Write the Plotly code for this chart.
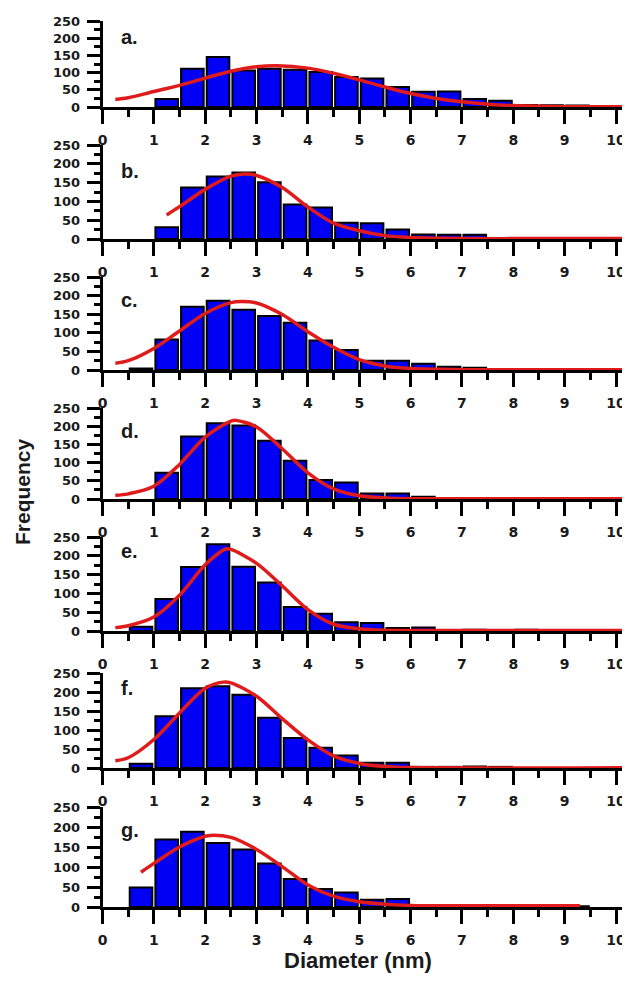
import plotly.graph_objects as go

# ---------------- data ----------------
bin_centers = [0.25, 0.75, 1.25, 1.75, 2.25, 2.75, 3.25, 3.75, 4.25, 4.75,
               5.25, 5.75, 6.25, 6.75, 7.25, 7.75, 8.25, 8.75, 9.25, 9.75]
x_ticks = [0, 1, 2, 3, 4, 5, 6, 7, 8, 9, 10]
y_ticks = [0, 50, 100, 150, 200, 250]
panel_labels = ["a.", "b.", "c.", "d.", "e.", "f.", "g."]

freq_a = [0, 0, 23, 111, 145, 106, 111, 108, 102, 87, 83, 58, 44, 45, 23, 18, 6, 5, 4, 2]
freq_b = [0, 0, 31, 137, 166, 177, 151, 92, 84, 43, 42, 25, 12, 11, 11, 0, 0, 0, 0, 0]
freq_c = [0, 4, 82, 170, 186, 162, 145, 127, 79, 54, 25, 25, 17, 9, 6, 0, 0, 0, 0, 0]
freq_d = [0, 0, 72, 172, 208, 202, 160, 105, 52, 45, 15, 15, 6, 0, 0, 0, 0, 0, 0, 0]
freq_e = [0, 11, 85, 170, 231, 171, 129, 64, 46, 23, 21, 8, 9, 0, 3, 0, 3, 0, 0, 0]
freq_f = [0, 11, 136, 210, 215, 193, 132, 79, 53, 33, 14, 14, 3, 3, 4, 3, 0, 0, 0, 0]
freq_g = [0, 49, 169, 188, 160, 144, 109, 70, 45, 36, 18, 20, 3, 0, 0, 0, 0, 0, 2, 0]

fit_x_a = [0.25, 0.5, 1.0, 1.5, 2.0, 2.5, 3.0, 3.4, 4.0, 4.5, 5.0, 5.5, 6.0, 6.5, 7.0, 7.5, 8.0, 8.5, 9.0, 10.3]
fit_y_a = [22, 27, 45, 63, 84, 104, 117, 120, 113, 98, 79, 58, 39, 25, 15, 8, 4, 2, 1, 1]
fit_x_b = [1.25, 1.5, 2.0, 2.5, 2.75, 3.0, 3.5, 4.0, 4.5, 5.0, 5.5, 6.0, 6.5, 7.0, 8.0, 10.3]
fit_y_b = [64, 86, 132, 167, 173, 169, 137, 85, 42, 22, 9, 4, 2, 1, 1, 1]
fit_x_c = [0.25, 0.5, 1.0, 1.5, 2.0, 2.5, 2.7, 3.0, 3.5, 4.0, 4.5, 5.0, 5.5, 6.0, 6.5, 7.0, 10.3]
fit_y_c = [18, 25, 58, 105, 152, 181, 184, 180, 149, 103, 61, 28, 11, 4, 2, 1, 1]
fit_x_d = [0.25, 0.5, 1.0, 1.5, 2.0, 2.5, 2.6, 3.0, 3.5, 4.0, 4.5, 5.0, 5.5, 6.0, 10.3]
fit_y_d = [10, 14, 35, 95, 170, 214, 216, 198, 138, 72, 28, 9, 3, 1, 1]
fit_x_e = [0.25, 0.5, 1.0, 1.5, 2.0, 2.4, 2.5, 3.0, 3.5, 4.0, 4.5, 5.0, 5.5, 6.0, 10.3]
fit_y_e = [9, 14, 37, 95, 176, 218, 217, 180, 120, 57, 18, 6, 2, 1, 1]
fit_x_f = [0.25, 0.5, 1.0, 1.5, 2.0, 2.35, 2.5, 3.0, 3.5, 4.0, 4.5, 5.0, 5.5, 6.0, 10.3]
fit_y_f = [19, 27, 75, 145, 210, 226, 224, 189, 130, 74, 32, 12, 4, 1, 1]
fit_x_g = [0.75, 1.0, 1.5, 2.0, 2.1, 2.5, 3.0, 3.5, 4.0, 4.5, 5.0, 5.5, 6.0, 7.0, 8.0, 9.3]
fit_y_g = [87, 109, 150, 177, 179, 174, 144, 101, 55, 27, 13, 7, 4, 3, 3, 3]

freqs = [freq_a, freq_b, freq_c, freq_d, freq_e, freq_f, freq_g]
fits = [(fit_x_a, fit_y_a), (fit_x_b, fit_y_b), (fit_x_c, fit_y_c), (fit_x_d, fit_y_d),
        (fit_x_e, fit_y_e), (fit_x_f, fit_y_f), (fit_x_g, fit_y_g)]

# ---------------- layout geometry (window pixels) ----------------
WIN_W, WIN_H = 630, 982
OFF = 8                      # default body margin of the html page
W, H = WIN_W - OFF, WIN_H - OFF
x0_px = 102.5
px_per_nm = 51.35
zero_px = [107, 239, 370, 499, 631, 768, 907]
top_px = [21, 145, 277, 408, 537, 673, 807]
label_base_px = [44, 177.7, 306.7, 437.7, 558.3, 695, 836.7]


def px_x(p):
    return (p - OFF) / W


def px_y(p):
    return 1 - (p - OFF) / H


BAR_BLUE = "#0000F5"
FIT_RED = "#E01B1B"
INK = "#1a1a1a"

fig = go.Figure()
layout = dict(
    width=W, height=H, margin=dict(l=0, r=0, t=0, b=0, autoexpand=False),
    paper_bgcolor="white", plot_bgcolor="white", showlegend=False,
    bargap=0.1,
)
annotations = []

for i in range(7):
    n = "" if i == 0 else str(i + 1)
    xa, ya = "x" + n, "y" + n
    # zero-height bins are not drawn (they would leave an outline on the axis)
    fig.add_trace(go.Bar(
        x=bin_centers, y=[v if v > 0 else None for v in freqs[i]], width=0.44,
        xaxis=xa, yaxis=ya,
        marker=dict(color=BAR_BLUE, line=dict(color="black", width=2)),
    ))
    fx, fy = fits[i]
    fig.add_trace(go.Scatter(
        x=fx, y=fy, mode="lines", xaxis=xa, yaxis=ya,
        line=dict(color=FIT_RED, width=3.5, shape="spline", smoothing=0.9),
    ))
    layout["xaxis" + n] = dict(
        domain=[px_x(x0_px), 1.0], range=[0, (WIN_W - x0_px) / px_per_nm],
        anchor=ya, showgrid=False, zeroline=False, automargin=False,
        showline=True, linecolor="black", linewidth=2.5,
        ticks="outside", ticklen=14, tickwidth=3, tickcolor="black",
        tickvals=x_ticks, ticktext=[str(t) for t in x_ticks],
        tickfont=dict(family="DejaVu Sans", size=14, color=INK, weight="bold"),
        ticklabelstandoff=4,
        minor=dict(ticks="outside", ticklen=7, tickwidth=3, tickcolor="black",
                   dtick=0.5, tick0=0, showgrid=False),
    )
    layout["yaxis" + n] = dict(
        domain=[px_y(zero_px[i]), px_y(top_px[i])], range=[0, 250],
        anchor=xa, showgrid=False, zeroline=False, automargin=False,
        showline=True, linecolor="black", linewidth=2.5,
        ticks="outside", ticklen=13, tickwidth=3, tickcolor="black",
        tickvals=y_ticks, ticktext=[str(t) for t in y_ticks],
        tickfont=dict(family="DejaVu Sans", size=13, color=INK, weight="bold"),
        ticklabelstandoff=4,
        minor=dict(ticks="outside", ticklen=6, tickwidth=3, tickcolor="black",
                   dtick=25, tick0=0, showgrid=False),
    )
    annotations.append(dict(
        text="<b>" + panel_labels[i] + "</b>", xref="paper", yref="paper",
        x=px_x(119), y=px_y(label_base_px[i] - 7), xanchor="left", yanchor="middle",
        showarrow=False, font=dict(family="Liberation Sans", size=20, color=INK),
    ))

annotations.append(dict(
    text="<b>Frequency</b>", xref="paper", yref="paper", x=px_x(23), y=px_y(492),
    xanchor="center", yanchor="middle", textangle=-90, showarrow=False,
    font=dict(family="Liberation Sans", size=21, color=INK),
))
annotations.append(dict(
    text="<b>Diameter (nm)</b>", xref="paper", yref="paper", x=px_x(358), y=px_y(960),
    xanchor="center", yanchor="middle", showarrow=False,
    font=dict(family="Liberation Sans", size=22, color=INK),
))
layout["annotations"] = annotations
fig.update_layout(**layout)
fig.write_html("out.html")
